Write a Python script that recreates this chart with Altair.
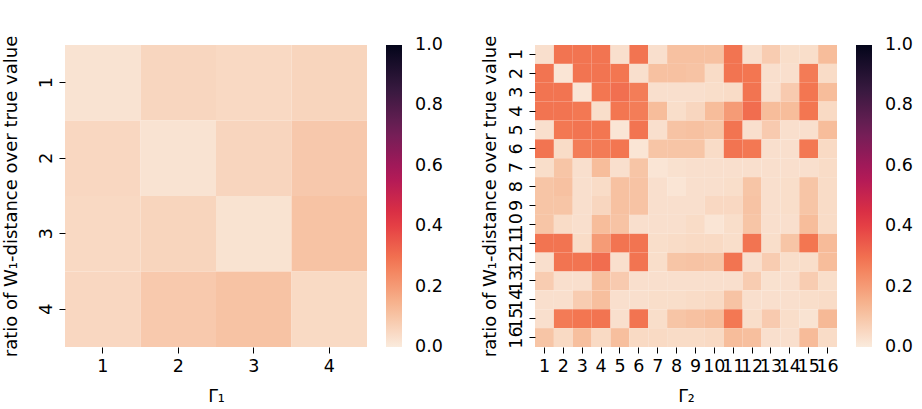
import altair as alt
import pandas as pd

# ---------------- data ----------------
gamma1_labels = [1, 2, 3, 4]
left_row_1 = [0.020, 0.055, 0.048, 0.058]
left_row_2 = [0.052, 0.020, 0.057, 0.090]
left_row_3 = [0.047, 0.058, 0.022, 0.105]
left_row_4 = [0.052, 0.088, 0.105, 0.045]

gamma2_labels = list(range(1, 17))
right_row_1 = [0.030, 0.290, 0.290, 0.290, 0.030, 0.290, 0.030, 0.110, 0.110, 0.110, 0.290, 0.030, 0.080, 0.035, 0.035, 0.120]
right_row_2 = [0.290, 0.015, 0.290, 0.290, 0.285, 0.030, 0.110, 0.110, 0.105, 0.040, 0.290, 0.285, 0.030, 0.030, 0.275, 0.040]
right_row_3 = [0.290, 0.290, 0.015, 0.285, 0.300, 0.270, 0.030, 0.030, 0.030, 0.035, 0.040, 0.290, 0.030, 0.085, 0.285, 0.120]
right_row_4 = [0.290, 0.290, 0.280, 0.035, 0.285, 0.270, 0.120, 0.035, 0.055, 0.120, 0.200, 0.305, 0.120, 0.120, 0.285, 0.045]
right_row_5 = [0.030, 0.280, 0.290, 0.285, 0.015, 0.290, 0.030, 0.105, 0.110, 0.100, 0.290, 0.030, 0.085, 0.030, 0.030, 0.120]
right_row_6 = [0.290, 0.040, 0.270, 0.275, 0.285, 0.015, 0.100, 0.100, 0.100, 0.040, 0.290, 0.280, 0.030, 0.030, 0.280, 0.045]
right_row_7 = [0.035, 0.100, 0.030, 0.120, 0.030, 0.100, 0.015, 0.025, 0.030, 0.030, 0.030, 0.030, 0.030, 0.030, 0.030, 0.040]
right_row_8 = [0.100, 0.110, 0.030, 0.040, 0.110, 0.105, 0.030, 0.015, 0.030, 0.030, 0.035, 0.100, 0.030, 0.035, 0.100, 0.040]
right_row_9 = [0.100, 0.100, 0.030, 0.055, 0.110, 0.105, 0.030, 0.030, 0.030, 0.050, 0.050, 0.105, 0.030, 0.035, 0.100, 0.040]
right_row_10 = [0.100, 0.040, 0.030, 0.120, 0.105, 0.030, 0.030, 0.030, 0.040, 0.015, 0.035, 0.100, 0.030, 0.030, 0.120, 0.040]
right_row_11 = [0.290, 0.290, 0.040, 0.200, 0.290, 0.290, 0.035, 0.040, 0.045, 0.045, 0.035, 0.290, 0.035, 0.100, 0.285, 0.125]
right_row_12 = [0.030, 0.290, 0.290, 0.305, 0.030, 0.290, 0.035, 0.100, 0.105, 0.100, 0.290, 0.030, 0.080, 0.035, 0.035, 0.120]
right_row_13 = [0.080, 0.030, 0.030, 0.115, 0.085, 0.030, 0.030, 0.030, 0.030, 0.030, 0.030, 0.080, 0.025, 0.030, 0.080, 0.035]
right_row_14 = [0.030, 0.030, 0.080, 0.115, 0.030, 0.030, 0.035, 0.035, 0.040, 0.045, 0.105, 0.030, 0.030, 0.030, 0.035, 0.040]
right_row_15 = [0.030, 0.275, 0.285, 0.290, 0.030, 0.290, 0.035, 0.100, 0.110, 0.120, 0.280, 0.035, 0.085, 0.035, 0.020, 0.130]
right_row_16 = [0.100, 0.045, 0.115, 0.045, 0.115, 0.045, 0.045, 0.040, 0.040, 0.045, 0.120, 0.115, 0.030, 0.030, 0.125, 0.040]

left_rows = [left_row_1, left_row_2, left_row_3, left_row_4]
right_rows = [right_row_1, right_row_2, right_row_3, right_row_4, right_row_5, right_row_6,
              right_row_7, right_row_8, right_row_9, right_row_10, right_row_11, right_row_12,
              right_row_13, right_row_14, right_row_15, right_row_16]

# colorbar label positions (ends nudged inside so labels centre on the bar ends)
colorbar_values = [0.00001, 0.2, 0.4, 0.6, 0.8, 0.99999]

# rocket_r colour stops (seaborn)
rocket_r_domain = [0, 1 / 7, 2 / 7, 3 / 7, 4 / 7, 5 / 7, 6 / 7, 1]
rocket_r_range = ["#faebdd", "#f6b48f", "#f37651", "#e13342", "#ad1759", "#701f57", "#35193e", "#03051a"]


def to_long(rows, labels):
    recs = []
    for i, row in enumerate(rows):
        for j, v in enumerate(row):
            recs.append({"row": labels[i], "col": labels[j], "value": v})
    return pd.DataFrame(recs)


df_left = to_long(left_rows, gamma1_labels)
df_right = to_long(right_rows, gamma2_labels)

FS = 17.5
YTITLE = "ratio of W\u2081-distance over true value"


def heat(df, xtitle, ytitle_pad):
    return alt.Chart(df).mark_rect().encode(
        x=alt.X("col:O", title=xtitle,
                scale=alt.Scale(paddingInner=0, paddingOuter=0),
                axis=alt.Axis(labelAngle=0, titlePadding=13)),
        y=alt.Y("row:O", title=YTITLE,
                scale=alt.Scale(paddingInner=0, paddingOuter=0),
                axis=alt.Axis(labelAngle=-90, titlePadding=ytitle_pad, titleLimit=1000,
                              titleFontSize=18)),
        color=alt.Color("value:Q",
                        scale=alt.Scale(domain=rocket_r_domain, range=rocket_r_range, interpolate="rgb"),
                        legend=alt.Legend(title=None, values=colorbar_values, format=".1f",
                                          gradientLength=302, gradientThickness=16,
                                          gradientStrokeWidth=0, offset=19, labelOffset=13,
                                          labelFontSize=FS, labelColor="#000", labelFont="DejaVu Sans")),
    ).properties(width=302, height=302)


left = heat(df_left, "\u0393\u2081", 17)
right = heat(df_right, "\u0393\u2082", 8)

chart = alt.hconcat(left, right, spacing=38).resolve_scale(
    color="independent"
).resolve_legend(
    color="independent"
).configure_axis(
    domain=False, tickColor="#000", tickWidth=1, tickSize=6,
    labelFont="DejaVu Sans", titleFont="DejaVu Sans",
    labelFontSize=FS, titleFontSize=FS, titleFontWeight="normal",
    labelColor="#000", titleColor="#000", labelPadding=4,
).configure_view(strokeWidth=0).properties(
    padding={"left": 2, "top": 35, "right": 5, "bottom": 5},
    background="white",
)

chart.save("out.html", embed_options={"renderer": "svg", "actions": False})
